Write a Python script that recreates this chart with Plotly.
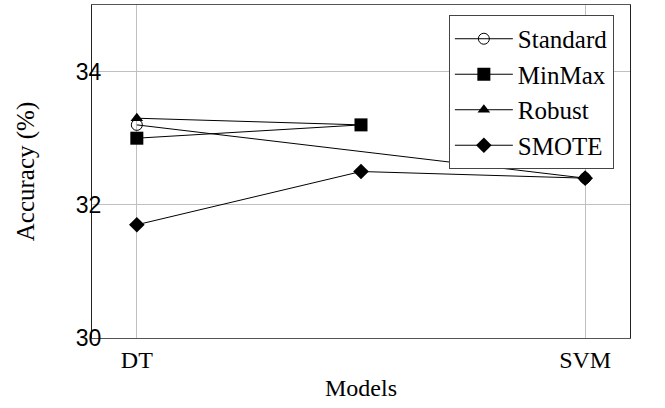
import plotly.graph_objects as go

# Data
model_pos = [0, 1, 2]
tick_pos = [0, 2]
tick_labels = ["DT", "SVM"]

standard_x = [0, 2]
standard_y = [33.2, 32.4]
minmax_x = [0, 1]
minmax_y = [33.0, 33.2]
robust_x = [0, 1]
robust_y = [33.3, 33.2]
smote_x = [0, 1, 2]
smote_y = [31.7, 32.5, 32.4]

serif = "Liberation Serif"
sans = "Liberation Sans"

fig = go.Figure()
fig.add_trace(go.Scatter(x=standard_x, y=standard_y, name="Standard", mode="lines+markers",
                         line=dict(color="black", width=1),
                         marker=dict(symbol="circle-open", size=11, color="black", line=dict(width=1))))
fig.add_trace(go.Scatter(x=minmax_x, y=minmax_y, name="MinMax", mode="lines+markers",
                         line=dict(color="black", width=1),
                         marker=dict(symbol="square", size=13, color="black")))
fig.add_trace(go.Scatter(x=robust_x, y=robust_y, name="Robust", mode="lines+markers",
                         line=dict(color="black", width=1),
                         marker=dict(symbol="triangle-up", size=11, color="black")))
fig.add_trace(go.Scatter(x=smote_x, y=smote_y, name="SMOTE", mode="lines+markers",
                         line=dict(color="black", width=1),
                         marker=dict(symbol="diamond", size=12, color="black")))

fig.update_layout(
    width=665, height=408,
    margin=dict(l=92, r=35, t=5, b=70, autoexpand=False),
    paper_bgcolor="white", plot_bgcolor="white",
    font=dict(family=serif, size=24, color="black"),
    showlegend=True,
    legend=dict(x=0.97, y=0.97, xanchor="right", yanchor="top",
                bgcolor="white", bordercolor="#444", borderwidth=1,
                font=dict(family=serif, size=25), tracegroupgap=0,
                itemwidth=58),
    xaxis=dict(range=[-0.2, 2.2], tickmode="array", tickvals=tick_pos, ticktext=tick_labels,
               showgrid=True, gridcolor="#c0c0c0", gridwidth=1, zeroline=False,
               showline=True, linecolor="#555", linewidth=1, mirror=True, automargin=False,
               ticks="", tickfont=dict(family=serif, size=24),
               title=dict(text="Models", font=dict(family=serif, size=24), standoff=7)),
    yaxis=dict(range=[30, 35], tickvals=[30, 32, 34],
               showgrid=True, gridcolor="#c0c0c0", gridwidth=1, zeroline=False,
               showline=True, linecolor="#222", linewidth=1, mirror=True, automargin=False,
               ticks="", tickfont=dict(family=sans, size=23), ticklabelstandoff=-15,
               title=dict(text="Accuracy (%)", font=dict(family=serif, size=25), standoff=34)),
)

fig.write_html("out.html", config={"displayModeBar": False},
               post_script="document.body.style.margin='0px';document.body.style.padding='0px';")
